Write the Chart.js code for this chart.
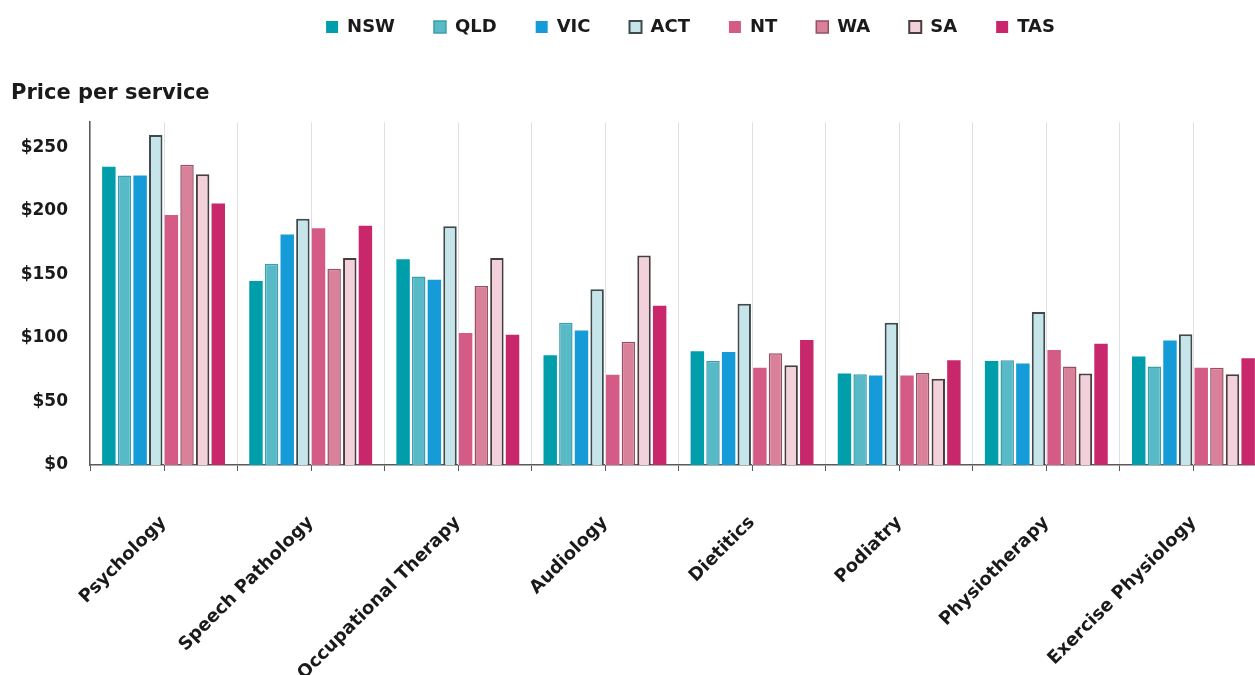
<!DOCTYPE html>
<html>
<head>
<meta charset="utf-8">
<title>Price per service</title>
<script src="https://cdn.jsdelivr.net/npm/chart.js@4.4.1/dist/chart.umd.min.js"></script>
<style>
  html, body { margin: 0; padding: 0; background: #ffffff; overflow: hidden; }
  #wrap { position: relative; width: 1270px; height: 675px; }
</style>
</head>
<body>
<div id="wrap"><canvas id="chart"></canvas></div>
<script>
// Allied health services and average price per service by state/territory
const services = ['Psychology', 'Speech Pathology', 'Occupational Therapy', 'Audiology',
                  'Dietitics', 'Podiatry', 'Physiotherapy', 'Exercise Physiology'];
const nsw = [235, 145, 162, 86.5, 89.5, 72, 82, 85.5];
const qld = [228, 158.5, 148.5, 112, 82, 71.5, 82.5, 77.5];
const vic = [228, 181.5, 146, 106, 89, 70.5, 80, 98];
const act = [260, 194, 188, 138.5, 127, 112, 120.5, 103];
const nt  = [197, 186.5, 104, 71, 76.5, 70.5, 90.5, 76.5];
const wa  = [236.5, 154.5, 141, 97, 88, 72.5, 77.5, 76.5];
const sa  = [229, 163, 163, 165, 78.5, 68, 72, 71.5];
const tas = [206, 188.5, 102.5, 125.5, 98.5, 82.5, 95.5, 84];
const yTickValues = [0, 50, 100, 150, 200, 250];
const yMax = 270;

const FONT = "'DejaVu Sans', 'Liberation Sans', sans-serif";
const TEXT = '#1a1a1a';
const GRID = '#e0e0e0';
const AXIS = '#5a5a5a';

Chart.defaults.font.family = FONT;
Chart.defaults.font.weight = 'bold';
Chart.defaults.color = TEXT;

function series(label, data, fill, border, borderWidth) {
  return {
    label, data,
    backgroundColor: fill,
    borderColor: border || fill,
    borderWidth: borderWidth || 0,
    borderSkipped: 'start',
    categoryPercentage: 0.85,
    barPercentage: 0.86
  };
}

// light grid lines and small tick marks at each category centre
const centreLines = {
  id: 'centreLines',
  afterLayout(chart) {
    // legend sits a little right of the plot centre
    chart.legend.left += 12;
    chart.legend.right += 12;
  },
  beforeDatasetsDraw(chart) {
    const { ctx, chartArea, scales: { x } } = chart;
    ctx.save();
    ctx.lineWidth = 1;
    services.forEach((_, i) => {
      const px = Math.round(x.getPixelForValue(i)) + 0.5;
      ctx.strokeStyle = GRID;
      ctx.beginPath();
      ctx.moveTo(px, chartArea.top);
      ctx.lineTo(px, chartArea.bottom);
      ctx.stroke();
      ctx.strokeStyle = AXIS;
      ctx.beginPath();
      ctx.moveTo(px, chartArea.bottom);
      ctx.lineTo(px, chartArea.bottom + 6);
      ctx.stroke();
    });
    ctx.restore();
  }
};

new Chart(document.getElementById('chart'), {
  type: 'bar',
  data: {
    labels: services,
    datasets: [
      series('NSW', nsw, '#009eaa'),
      series('QLD', qld, '#58b9c7', '#3d9eab', 1.5),
      series('VIC', vic, '#149bd8'),
      series('ACT', act, '#c6e5ea', '#3f4a4c', 2),
      series('NT',  nt,  '#d35b86'),
      series('WA',  wa,  '#d9819b', '#96505f', 1.5),
      series('SA',  sa,  '#f3d1db', '#4a3d40', 2),
      series('TAS', tas, '#c8276c')
    ]
  },
  plugins: [centreLines],
  options: {
    responsive: true,
    maintainAspectRatio: false,
    animation: false,
    layout: { padding: { top: -21, left: 11, right: 3, bottom: 0 } },
    plugins: {
      tooltip: { enabled: false },
      legend: {
        position: 'top',
        align: 'center',
        fullSize: false,
        labels: {
          boxWidth: 12,
          boxHeight: 12,
          padding: 39,
          color: TEXT,
          font: { size: 18, weight: 'bold' }
        }
      },
      title: {
        display: true,
        text: 'Price per service',
        align: 'start',
        weight: 500,
        color: TEXT,
        font: { size: 21, weight: 'bold' },
        padding: { top: 35, bottom: 16 }
      }
    },
    scales: {
      x: {
        type: 'category',
        offset: true,
        grid: { offset: true, color: GRID, tickColor: AXIS, tickLength: 6, drawOnChartArea: true },
        border: { display: true, color: AXIS, width: 1.5 },
        ticks: {
          autoSkip: false,
          minRotation: 45,
          maxRotation: 45,
          padding: 41,
          color: TEXT,
          font: { size: 18, weight: 'bold' }
        },
        afterFit(scale) {
          scale.height = 210;
          scale.paddingLeft = 0;
          scale.paddingRight = 0;
        }
      },
      y: {
        min: 0,
        max: yMax,
        grid: { display: false },
        border: { display: true, color: AXIS, width: 1.5 },
        ticks: {
          padding: 14,
          color: TEXT,
          font: { size: 17, weight: 'bold' },
          callback: (v) => '$' + v
        },
        afterBuildTicks(scale) {
          scale.ticks = yTickValues.map(v => ({ value: v }));
        },
        afterFit(scale) {
          scale.width = 79;
        }
      }
    }
  }
});
</script>
</body>
</html>
